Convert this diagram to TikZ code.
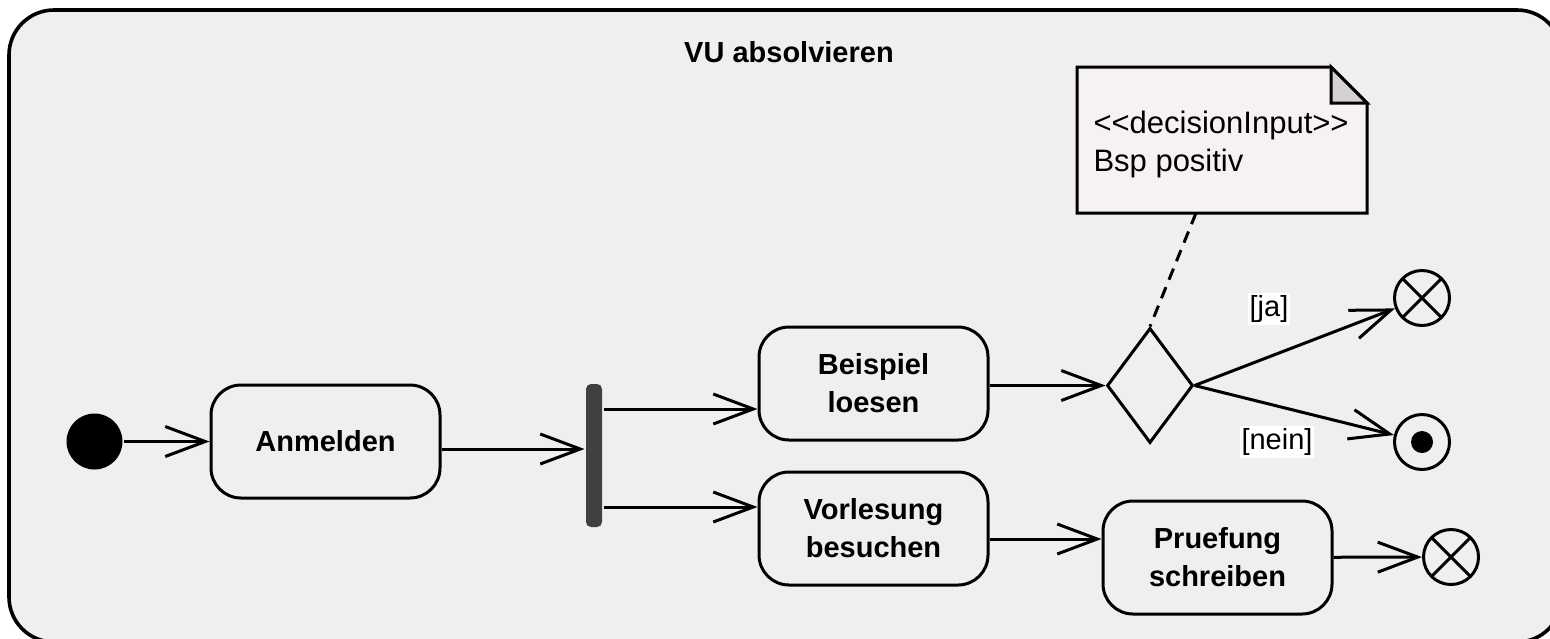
\documentclass[tikz,border=0pt]{standalone}
\usepackage{fontspec}
\setmainfont{Liberation Sans}
\newfontfamily\notefont{Liberation Sans}
\usepackage{tikz}
\usetikzlibrary{arrows.meta, shapes.geometric}

\definecolor{framebg}{HTML}{EFEFEF}
\definecolor{notebg}{HTML}{F5F1F5}
\definecolor{foldbg}{HTML}{D4D0D4}
\definecolor{barfill}{HTML}{404040}

\begin{document}
\begin{tikzpicture}[
  x=0.5pt, y=-0.5pt,
  line width=1.5pt,
  every node/.style={font=\fontsize{14.5}{19}\selectfont},
  action/.style={draw, rectangle, rounded corners=15pt, minimum width=114.5pt,
    minimum height=56.5pt, align=center, font=\fontsize{14.5}{19}\selectfont\bfseries},
  flow/.style={-{Straight Barb[length=20pt, width=15pt]}},
  guard/.style={fill=white, inner sep=1pt},
  initial/.style={circle, fill=black, minimum size=28pt, inner sep=0pt},
  flowfinal/.style={circle, draw, minimum size=27.5pt, inner sep=0pt,
    path picture={\draw (path picture bounding box.north west) -- (path picture bounding box.south east)
      (path picture bounding box.north east) -- (path picture bounding box.south west);}},
  actfinal/.style={circle, draw, minimum size=27.5pt, inner sep=0pt,
    path picture={\fill (path picture bounding box.center) circle (5.5pt);}},
  forkbar/.style={rectangle, fill=barfill, rounded corners=2.5pt, minimum width=8pt,
    minimum height=71.5pt, inner sep=0pt},
  decision/.style={diamond, draw, minimum width=43pt, minimum height=57.5pt, inner sep=0pt}
]
\useasboundingbox (0,0) rectangle (1550,638);
\clip (0,0) rectangle (1550,638);
\fill[white] (0,0) rectangle (1550,638);
\draw[fill=framebg, line width=1.8pt, rounded corners=22.5pt] (9,10) rectangle (1562,642);
\node[font=\fontsize{14.5}{19}\selectfont\bfseries] (title) at (789,52) {VU absolvieren};

% note with folded corner
\draw[fill=notebg] (1077,67) -- (1331,67) -- (1367,103) -- (1367,213) -- (1077,213) -- cycle;
\draw[fill=foldbg] (1331,67) -- (1331,103) -- (1367,103) -- cycle;
\node[anchor=base west, align=left, inner sep=0pt, font=\fontsize{15.5}{19}\notefont] (note)
  at (1092,171) {<<decisionInput>>\\Bsp positiv};
\coordinate (notefoot) at (1196,213);

\node[initial] (start) at (94.5,441.5) {};
\node[action] (anm) at (325.5,441.5) {Anmelden};
\node[forkbar] (fork) at (594,455.5) {};
\node[action] (bsp) at (873.5,383.5) {Beispiel\\loesen};
\node[action] (vl) at (873.5,528.5) {Vorlesung\\besuchen};
\node[action] (pr) at (1217.5,557.5) {Pruefung\\schreiben};
\node[decision] (dec) at (1150,385.5) {};
\node[flowfinal] (ja) at (1422,298) {};
\node[actfinal] (nein) at (1422,442) {};
\node[flowfinal] (prend) at (1451,557) {};

\coordinate (anmout) at ([yshift=-3.75pt]anm.east);
\coordinate (bspin) at ([yshift=-12.75pt]bsp.west);
\coordinate (vlin) at ([yshift=10.75pt]vl.west);
\coordinate (vlout) at ([yshift=-5.25pt]vl.east);

\draw[flow] (start) -- (anm);
\draw[flow] (anmout) -- (anmout -| fork.west);
\draw[flow] (fork.east |- bspin) -- (bspin);
\draw[flow] (fork.east |- vlin) -- (vlin);
\draw[flow] (bsp.east |- dec) -- (dec.west);
\draw[flow] (vlout) -- (vlout -| pr.west);
\draw[flow] (pr) -- (prend);
\draw[flow] (dec.east) -- (ja);
\draw[flow] (dec.east) -- (nein);
\draw[dash pattern=on 6pt off 4pt] (notefoot) -- (dec.north);

\node[guard] (jalabel) at (1269,309) {[ja]};
\node[guard] (neinlabel) at (1277,442) {[nein]};
\end{tikzpicture}
\end{document}
